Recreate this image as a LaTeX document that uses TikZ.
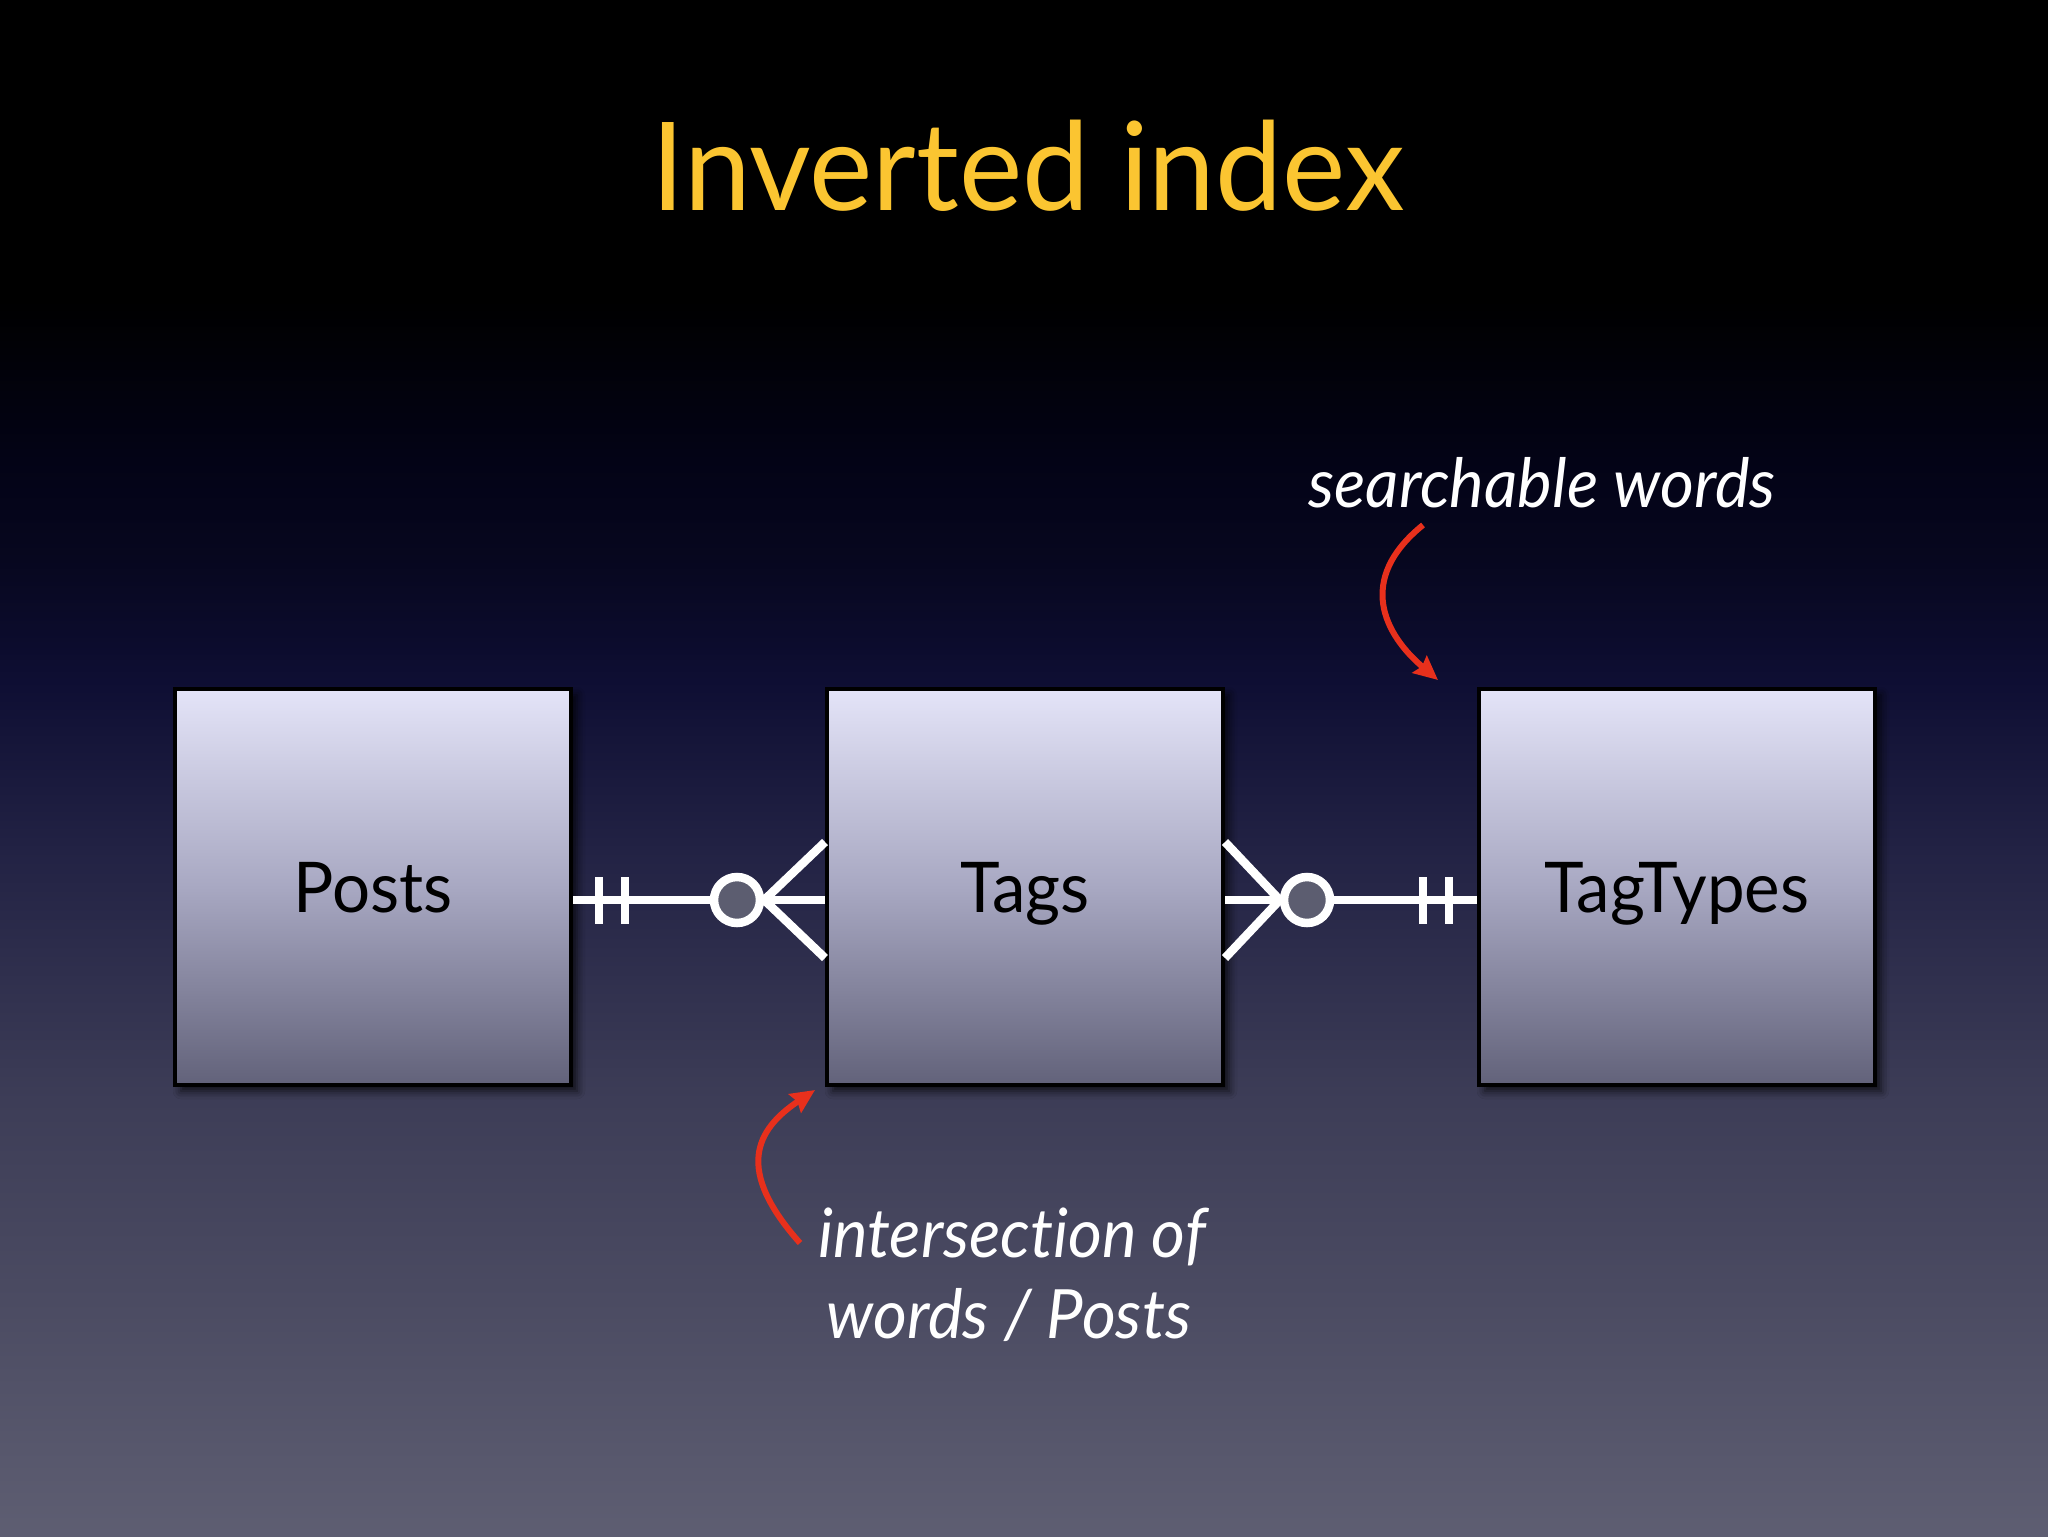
\documentclass[tikz,border=0pt]{standalone}
\usepackage{fontspec}
\setmainfont[FakeStretch=0.96,Ligatures=NoCommon]{Lato}
\newfontfamily\titlefont[FakeStretch=0.975]{Lato}
\usetikzlibrary{shadows.blur,arrows.meta,calc}
\definecolor{bg1}{HTML}{000000}
\definecolor{bg2}{HTML}{030316}
\definecolor{bg2b}{HTML}{07071F}
\definecolor{bg3}{HTML}{0E0E33}
\definecolor{bg4}{HTML}{222244}
\definecolor{bg5}{HTML}{3D3D57}
\definecolor{bg6}{HTML}{4B4B62}
\definecolor{bg7}{HTML}{5E5E72}
\definecolor{boxtop}{HTML}{E4E4F8}
\definecolor{boxmid}{HTML}{A8A8C2}
\definecolor{boxbot}{HTML}{62627A}
\definecolor{circfill}{HTML}{5C5D70}
\definecolor{titlecol}{HTML}{FBC531}
\definecolor{arrred}{HTML}{E8301C}
\pgfdeclareverticalshading{bgshade}{100bp}{color(0bp)=(bg7); color(25bp)=(bg7); color(32.68bp)=(bg6); color(39.19bp)=(bg5); color(47.33bp)=(bg4); color(52.86bp)=(bg3); color(56.77bp)=(bg2b); color(60.03bp)=(bg2); color(65.23bp)=(bg1); color(75bp)=(bg1); color(100bp)=(bg1)}
\tikzset{
  entity/.style={draw=black, line width=2pt, minimum width=198pt, minimum height=198pt,
    top color=boxtop, bottom color=boxbot, middle color=boxmid,
    font=\fontsize{35}{40}\selectfont, text=black, text height=25pt, text depth=0pt,
    blur shadow={shadow xshift=3pt, shadow yshift=-3pt, shadow blur radius=4pt, shadow opacity=75}},
  conn/.style={draw=white, line width=4.25pt},
  circ/.style={circle, draw=white, line width=4.25pt, fill=circfill, minimum size=23pt, inner sep=0pt},
  titlestyle/.style={anchor=base, text=titlecol, font=\titlefont\fontsize{61.4}{70}\selectfont, inner sep=0pt},
  note/.style={anchor=base, text=white, font=\itshape\fontsize{34}{40}\selectfont, inner sep=0pt},
  redarr/.style={draw=arrred, line width=3pt, -{Stealth[length=12pt,width=11pt,inset=1.5pt]}}
}
\begin{document}
\begin{tikzpicture}[x=0.5pt,y=-0.5pt]
\useasboundingbox (0,0) rectangle (2048,1536);
\shade[shading=bgshade] (0,0) rectangle (2048,1536);

\node[titlestyle] (title) at (1028,210) {Inverted index};

\node[entity] (posts) at (373,887) {Posts};
\node[entity] (tags) at (1025,887) {Tags};
\node[entity] (tagtypes) at (1677,887) {TagTypes};

% Posts -- Tags
\node[circ] (c1) at (737,900) {};
\draw[conn] ($(posts.east)+(0,13)$) -- (c1.west);
\draw[conn] (c1.east) -- ($(tags.west)+(0,13)$);
\draw[conn] (c1.east) -- ($(tags.west)+(0,-45)$);
\draw[conn] (c1.east) -- ($(tags.west)+(0,71)$);
\draw[conn] ($(posts.east)+(26,-10)$) -- ($(posts.east)+(26,37)$);
\draw[conn] ($(posts.east)+(52,-10)$) -- ($(posts.east)+(52,37)$);

% Tags -- TagTypes
\node[circ] (c2) at (1307,900) {};
\draw[conn] ($(tags.east)+(0,13)$) -- (c2.west);
\draw[conn] ($(tags.east)+(0,-45)$) -- (c2.west);
\draw[conn] ($(tags.east)+(0,71)$) -- (c2.west);
\draw[conn] (c2.east) -- ($(tagtypes.west)+(0,13)$);
\draw[conn] ($(tagtypes.west)+(-54,-10)$) -- ($(tagtypes.west)+(-54,37)$);
\draw[conn] ($(tagtypes.west)+(-28,-10)$) -- ($(tagtypes.west)+(-28,37)$);

% notes
\node[note] (sw) at (1542,507) {searchable words};
\node[note] (iof) at (1012,1257) {intersection of};
\node[note] (wp) at (1009,1338) {words / Posts};

\coordinate (s1) at (1423,525);
\coordinate (e1) at (1438,680);
\draw[redarr] (s1) .. controls (1355,580) and (1385,635) .. (e1);
\coordinate (s2) at (800,1243);
\coordinate (e2) at (815,1090);
\draw[redarr] (s2) .. controls (735,1170) and (755,1130) .. (e2);
\end{tikzpicture}
\end{document}
